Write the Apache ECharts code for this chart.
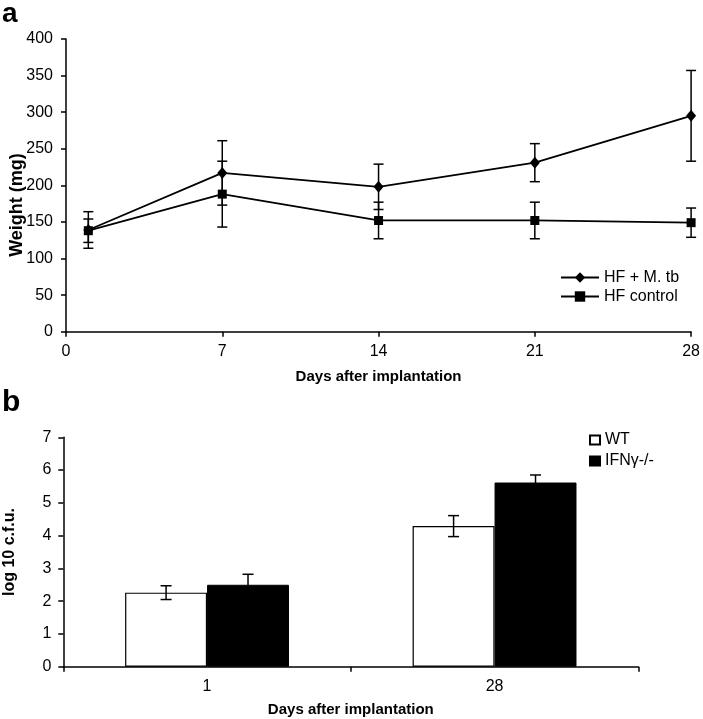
<!DOCTYPE html>
<html>
<head>
<meta charset="utf-8">
<script src="https://cdn.jsdelivr.net/npm/echarts@6/dist/echarts.min.js"></script>
<style>
html,body{margin:0;padding:0;background:#fff;}
#chart{width:703px;height:719px;}
</style>
</head>
<body>
<div id="chart"></div>
<script>
// ---- Panel a data ----
const daysA = [1, 7, 14, 21, 28];
const mtbWeight = [139, 217, 198, 231, 295];
const mtbErr = [25, 44, 31, 26, 62];
const ctrlWeight = [138, 188, 152, 152, 149];
const ctrlErr = [16, 45, 25, 25, 20];

// ---- Panel b data ----
const daysB = ['1', '28'];
const wtCfu = [2.26, 4.29];
const wtErr = [0.21, 0.32];
const ifnCfu = [2.50, 5.62];
const ifnErr = [0.32, 0.23];

const FONT = "'Liberation Sans', Arial, sans-serif";
const BAR_FRAC = 0.285;

const chart = echarts.init(document.getElementById('chart'), null, {renderer: 'canvas'});

function errA(params, api) {
  const x = api.value(0);
  const lo = api.coord([x, api.value(1)]);
  const hi = api.coord([x, api.value(2)]);
  const w = 5;
  const st = {stroke: '#000', lineWidth: 1.5};
  return {type: 'group', children: [
    {type: 'line', shape: {x1: lo[0], y1: lo[1], x2: hi[0], y2: hi[1]}, style: st},
    {type: 'line', shape: {x1: lo[0] - w, y1: lo[1], x2: lo[0] + w, y2: lo[1]}, style: st},
    {type: 'line', shape: {x1: hi[0] - w, y1: hi[1], x2: hi[0] + w, y2: hi[1]}, style: st}
  ]};
}

function errB(sign) {
  return function (params, api) {
    const c = api.value(0);
    const lo = api.coord([c, api.value(1)]);
    const hi = api.coord([c, api.value(2)]);
    const band = api.size([1, 0])[0];
    const x = lo[0] + sign * band * BAR_FRAC / 2;
    const w = 5.5;
    const st = {stroke: '#000', lineWidth: 1.5};
    return {type: 'group', children: [
      {type: 'line', shape: {x1: x, y1: lo[1], x2: x, y2: hi[1]}, style: st},
      {type: 'line', shape: {x1: x - w, y1: lo[1], x2: x + w, y2: lo[1]}, style: st},
      {type: 'line', shape: {x1: x - w, y1: hi[1], x2: x + w, y2: hi[1]}, style: st}
    ]};
  };
}

const axisLine = {show: true, lineStyle: {color: '#000', width: 1.5}};
const axisTick = {show: true, length: 5, lineStyle: {color: '#000', width: 1.5}};
const axisLabel = {color: '#000', fontSize: 16, fontFamily: FONT};

const option = {
  animation: false,
  backgroundColor: '#fff',
  textStyle: {fontFamily: FONT},
  grid: [
    {left: 66, top: 39, width: 628, height: 292.7},
    {left: 63.3, top: 437.3, width: 575, height: 229.4}
  ],
  xAxis: [
    {gridIndex: 0, type: 'value', min: 0, max: 28, interval: 7,
     axisLine: axisLine, axisTick: axisTick, splitLine: {show: false},
     axisLabel: Object.assign({margin: 12}, axisLabel),
     name: 'Days after implantation', nameLocation: 'middle', nameGap: 38,
     nameTextStyle: {color: '#000', fontSize: 15, fontWeight: 'bold', fontFamily: FONT}},
    {gridIndex: 1, type: 'category', data: daysB, boundaryGap: true,
     axisLine: axisLine, axisTick: axisTick,
     axisLabel: Object.assign({margin: 12}, axisLabel),
     name: 'Days after implantation', nameLocation: 'middle', nameGap: 36,
     nameTextStyle: {color: '#000', fontSize: 15, fontWeight: 'bold', fontFamily: FONT}}
  ],
  yAxis: [
    {gridIndex: 0, type: 'value', min: 0, max: 400, interval: 50,
     axisLine: axisLine, axisTick: axisTick, splitLine: {show: false},
     axisLabel: Object.assign({margin: 13}, axisLabel)},
    {gridIndex: 1, type: 'value', min: 0, max: 7, interval: 1,
     axisLine: axisLine, axisTick: axisTick, splitLine: {show: false},
     axisLabel: Object.assign({margin: 12}, axisLabel)}
  ],
  legend: [
    {data: ['HF + M. tb', 'HF control'], orient: 'vertical', left: 560, top: 269.5,
     itemWidth: 38, itemHeight: 13, itemGap: 3, padding: 0,
     textStyle: {color: '#000', fontSize: 16, fontFamily: FONT}},
    {data: [{name: 'WT', icon: 'rect'}, {name: 'IFNγ-/-', icon: 'rect'}], orient: 'vertical',
     left: 589, top: 432, itemWidth: 10, itemHeight: 9, itemGap: 5, padding: 0,
     textStyle: {color: '#000', fontSize: 16, fontFamily: FONT}}
  ],
  graphic: [
    {type: 'text', left: 2, top: 0, style: {text: 'a', font: "bold 28px " + FONT, fill: '#000'}},
    {type: 'text', left: 2, top: 388, style: {text: 'b', font: "bold 30px " + FONT, fill: '#000'}},
    {type: 'text', x: 17, y: 205, rotation: Math.PI / 2,
     style: {text: 'Weight (mg)', font: "bold 18px " + FONT, fill: '#000', textAlign: 'center', textVerticalAlign: 'middle'}},
    {type: 'text', x: 10, y: 552, rotation: Math.PI / 2,
     style: {text: 'log 10 c.f.u.', font: "bold 16px " + FONT, fill: '#000', textAlign: 'center', textVerticalAlign: 'middle'}}
  ],
  series: [
    {type: 'custom', name: 'errMtb', xAxisIndex: 0, yAxisIndex: 0, renderItem: errA, z: 3,
     data: daysA.map((d, i) => [d, mtbWeight[i] - mtbErr[i], mtbWeight[i] + mtbErr[i]])},
    {type: 'custom', name: 'errCtrl', xAxisIndex: 0, yAxisIndex: 0, renderItem: errA, z: 3,
     data: daysA.map((d, i) => [d, ctrlWeight[i] - ctrlErr[i], ctrlWeight[i] + ctrlErr[i]])},
    {type: 'line', name: 'HF + M. tb', xAxisIndex: 0, yAxisIndex: 0, z: 4,
     symbol: 'diamond', symbolSize: [10, 12], color: '#000',
     lineStyle: {color: '#000', width: 1.8}, itemStyle: {color: '#000'},
     data: daysA.map((d, i) => [d, mtbWeight[i]])},
    {type: 'line', name: 'HF control', xAxisIndex: 0, yAxisIndex: 0, z: 4,
     symbol: 'rect', symbolSize: 9, color: '#000',
     lineStyle: {color: '#000', width: 1.8}, itemStyle: {color: '#000'},
     data: daysA.map((d, i) => [d, ctrlWeight[i]])},
    {type: 'bar', name: 'WT', xAxisIndex: 1, yAxisIndex: 1, barWidth: (BAR_FRAC * 100) + '%', barGap: '0%',
     itemStyle: {color: '#fff', borderColor: '#000', borderWidth: 1.2},
     data: wtCfu},
    {type: 'bar', name: 'IFNγ-/-', xAxisIndex: 1, yAxisIndex: 1, barWidth: (BAR_FRAC * 100) + '%', barGap: '0%',
     itemStyle: {color: '#000', borderColor: '#000', borderWidth: 1},
     data: ifnCfu},
    {type: 'custom', name: 'errWT', xAxisIndex: 1, yAxisIndex: 1, renderItem: errB(-1), z: 5,
     data: daysB.map((d, i) => [i, wtCfu[i] - wtErr[i], wtCfu[i] + wtErr[i]])},
    {type: 'custom', name: 'errIFN', xAxisIndex: 1, yAxisIndex: 1, renderItem: errB(1), z: 5,
     data: daysB.map((d, i) => [i, ifnCfu[i] - ifnErr[i], ifnCfu[i] + ifnErr[i]])}
  ]
};
chart.setOption(option);
</script>
</body>
</html>
